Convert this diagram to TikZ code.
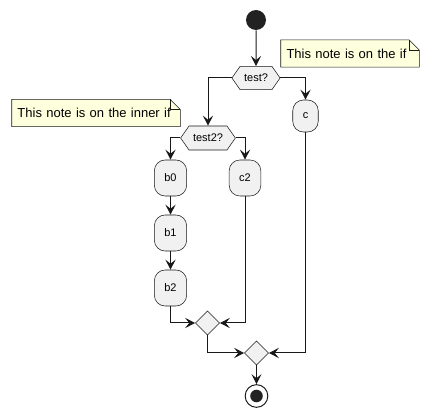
\documentclass[tikz,border=0pt]{standalone}
\usepackage{fontspec}
\setmainfont{Liberation Sans}
\usetikzlibrary{shapes.geometric, shapes.symbols, arrows.meta, backgrounds}
\definecolor{boxfill}{HTML}{F1F1F1}
\definecolor{linecol}{HTML}{181818}
\definecolor{notefill}{HTML}{FEFFDD}
\definecolor{dotfill}{HTML}{222222}

\begin{document}
\begin{tikzpicture}[x=0.75pt, y=-0.75pt,
    act/.style={draw=linecol, line width=0.4pt, fill=boxfill, rounded corners=8pt, minimum height=27pt, inner xsep=7.5pt, font=\fontsize{8.25}{10}\selectfont},
    hex/.style={draw=linecol, line width=0.4pt, fill=boxfill, shape=signal, signal to=west and east, signal pointer angle=110, minimum height=17.5pt, inner xsep=3pt, font=\fontsize{8.25}{10}\selectfont},
    joint/.style={diamond, draw=linecol, line width=0.4pt, fill=boxfill, minimum width=18pt, minimum height=18pt, inner sep=0pt},
    notebox/.style={minimum height=20pt, inner sep=0pt, align=left, font=\fontsize{9.75}{12}\selectfont},
    flow/.style={draw=linecol, line width=0.75pt, -{Stealth[length=7.5pt, width=7.5pt, inset=3pt]}}]
    \useasboundingbox (0,0) rectangle (429,417);
    % start and first choice
    \node (start) at (256,20) [circle, fill=dotfill, minimum size=15pt, inner sep=0pt] {};
    \node (test) at (256,78) [hex] {test?};
    \node (note1) at (350,53.5) [notebox, minimum width=103.5pt, text width=95.25pt] {This note is on the if};
    \node (c) at (305.5,116) [act, minimum height=24pt] {c};
    % inner choice
    \node (test2) at (208,138) [hex, minimum height=18pt] {test2?};
    \node (note2) at (96,113) [notebox, minimum width=126pt, text width=117.75pt] {This note is on the inner if};
    \node (b0) at (170.5,178) [act] {b0};
    \node (b1) at (170.5,233) [act] {b1};
    \node (b2) at (170.5,288) [act] {b2};
    \node (c2) at (245,178) [act] {c2};
    % merges and end
    \node (merge1) at (207.5,323) [joint] {};
    \node (merge2) at (256.5,353) [joint] {};
    \node (stop) at (256.5,396) [circle, draw=linecol, line width=0.75pt, fill=white, minimum size=17pt, inner sep=0pt] {};
    \fill [dotfill] (stop) circle (4.7pt);
    % notes
    \begin{scope}[on background layer]
    \foreach \n in {note1, note2} {
        \draw [linecol, line width=0.4pt, fill=notefill] (\n.south west) -- (\n.north west) -- ([shift={(-10,0)}]\n.north east) -- ([shift={(0,10)}]\n.north east) -- (\n.south east) -- cycle;
        \draw [linecol, line width=0.4pt] ([shift={(-10,0)}]\n.north east) -- ([shift={(-10,10)}]\n.north east) -- ([shift={(0,10)}]\n.north east);
    }
    \end{scope}
    % connectors
    \draw [flow] (start) -- (test);
    \draw [flow] (test.west) -| (test2.north);
    \draw [flow] (test.east) -| (c.north);
    \draw [flow] (test2.west) -| (b0.north);
    \draw [flow] (test2.east) -| (c2.north);
    \draw [flow] (b0) -- (b1);
    \draw [flow] (b1) -- (b2);
    \draw [flow] (b2.south) |- (merge1.west);
    \draw [flow] (c2.south) |- (merge1.east);
    \draw [flow] (merge1.south) |- (merge2.west);
    \draw [flow] (c.south) |- (merge2.east);
    \draw [flow] (merge2) -- (stop);
\end{tikzpicture}
\end{document}
